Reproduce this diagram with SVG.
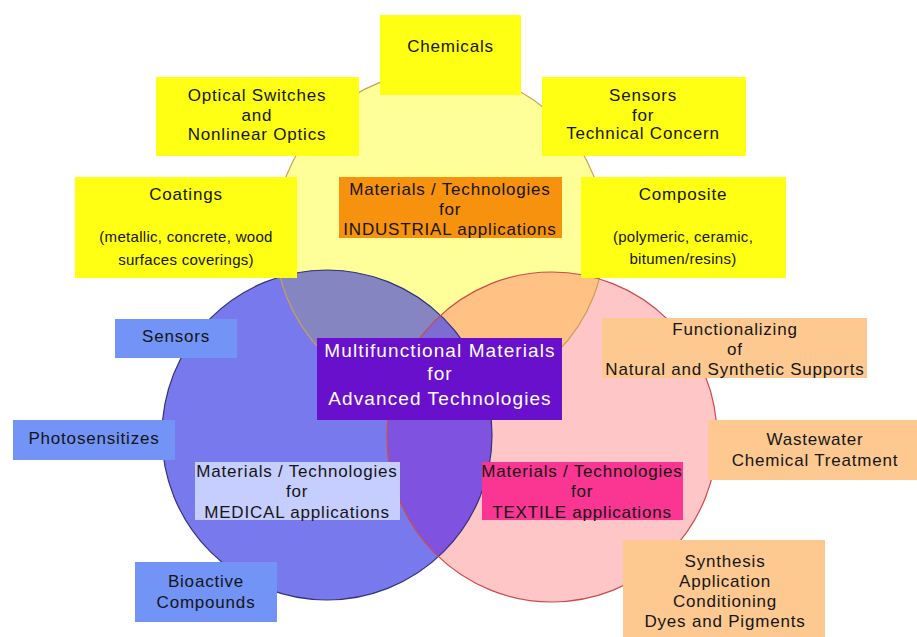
<svg xmlns="http://www.w3.org/2000/svg" width="917" height="637" viewBox="0 0 917 637">
<style>
text{font-family:"Liberation Sans",Arial,sans-serif;font-size:17px;fill:#151515;text-anchor:middle;letter-spacing:0.8px}
.sm{font-size:15px;letter-spacing:0.3px}
.w{fill:#ffffff;font-size:19px;letter-spacing:1.1px}
.yb{fill:#ffff14}
.bb{fill:#7294f6}
.pb{fill:#fdc991}
</style>
<defs>
<clipPath id="cY"><circle cx="440" cy="236" r="165"/></clipPath>
<clipPath id="cB"><circle cx="327" cy="435" r="165"/></clipPath>
</defs>
<rect width="917" height="637" fill="#ffffff"/>
<g id="circles">
<g id="circle-industrial"><circle cx="440" cy="236" r="165" fill="#ffff99"/></g>
<g id="circle-medical"><circle cx="327" cy="435" r="165" fill="#7979ee"/></g>
<g id="circle-textile"><circle cx="552" cy="437" r="165" fill="#ffc6c8"/></g>
<circle cx="327" cy="435" r="165" fill="#8585c2" clip-path="url(#cY)"/>
<circle cx="552" cy="437" r="165" fill="#ffc184" clip-path="url(#cY)"/>
<circle cx="552" cy="437" r="165" fill="#7f52e0" clip-path="url(#cB)"/>
<g clip-path="url(#cB)"><circle cx="552" cy="437" r="165" fill="#7d6cd4" clip-path="url(#cY)"/></g>
<circle cx="440" cy="236" r="165" fill="none" stroke="#c8a055" stroke-width="1.2"/>
<circle cx="327" cy="435" r="165" fill="none" stroke="#33337a" stroke-width="1.2"/>
<circle cx="552" cy="437" r="165" fill="none" stroke="#cc4a4a" stroke-width="1.2"/>
</g>
<g id="connectors"></g>
<g id="chemicals"><rect class="yb" x="380" y="15" width="141" height="80"/><text x="450.5" y="52">Chemicals</text></g>
<g id="optical"><rect class="yb" x="156" y="77" width="203" height="79"/><text x="257" y="101">Optical Switches</text><text x="257" y="121">and</text><text x="257" y="140">Nonlinear Optics</text></g>
<g id="sensors-tech"><rect class="yb" x="542" y="77" width="204" height="79"/><text x="643" y="101">Sensors</text><text x="643" y="121">for</text><text x="643" y="139">Technical Concern</text></g>
<g id="coatings"><rect class="yb" x="75" y="177" width="222" height="101"/><text x="186" y="200">Coatings</text><text class="sm" x="186" y="242">(metallic, concrete, wood</text><text class="sm" x="186" y="265">surfaces coverings)</text></g>
<g id="composite"><rect class="yb" x="581" y="177" width="205" height="101"/><text x="683" y="200">Composite</text><text class="sm" x="683" y="242">(polymeric, ceramic,</text><text class="sm" x="683" y="264">bitumen/resins)</text></g>
<g id="industrial"><rect x="339" y="177" width="223" height="61" fill="#f7920f"/><text x="450" y="195">Materials / Technologies</text><text x="450" y="215">for</text><text x="450" y="235">INDUSTRIAL applications</text></g>
<g id="multifunctional"><rect x="317" y="338" width="245" height="82" fill="#6810cb"/><text class="w" x="440" y="357">Multifunctional Materials</text><text class="w" x="440" y="380">for</text><text class="w" x="440" y="405">Advanced Technologies</text></g>
<g id="medical"><rect x="195" y="462" width="205" height="58" fill="#c6cdff"/><text x="297" y="477">Materials / Technologies</text><text x="297" y="497">for</text><text x="297" y="518">MEDICAL applications</text></g>
<g id="textile"><rect x="482" y="462" width="201" height="58" fill="#fa3592"/><text x="582" y="477">Materials / Technologies</text><text x="582" y="497">for</text><text x="582" y="518">TEXTILE applications</text></g>
<g id="sensors"><rect class="bb" x="115" y="319" width="122" height="39"/><text x="176" y="342">Sensors</text></g>
<g id="photosensitizes"><rect class="bb" x="13" y="420" width="162" height="40"/><text x="94" y="444">Photosensitizes</text></g>
<g id="bioactive"><rect class="bb" x="135" y="562" width="142" height="60"/><text x="206" y="587">Bioactive</text><text x="206" y="608">Compounds</text></g>
<g id="functionalizing"><rect class="pb" x="602" y="318" width="265" height="60"/><text x="735" y="335">Functionalizing</text><text x="735" y="355">of</text><text x="735" y="375">Natural and Synthetic Supports</text></g>
<g id="wastewater"><rect class="pb" x="708" y="420" width="209" height="60"/><text x="815" y="445">Wastewater</text><text x="815" y="466">Chemical Treatment</text></g>
<g id="synthesis"><rect class="pb" x="623" y="540" width="202" height="97"/><text x="725" y="567">Synthesis</text><text x="725" y="587">Application</text><text x="725" y="607">Conditioning</text><text x="725" y="627">Dyes and Pigments</text></g>
</svg>
